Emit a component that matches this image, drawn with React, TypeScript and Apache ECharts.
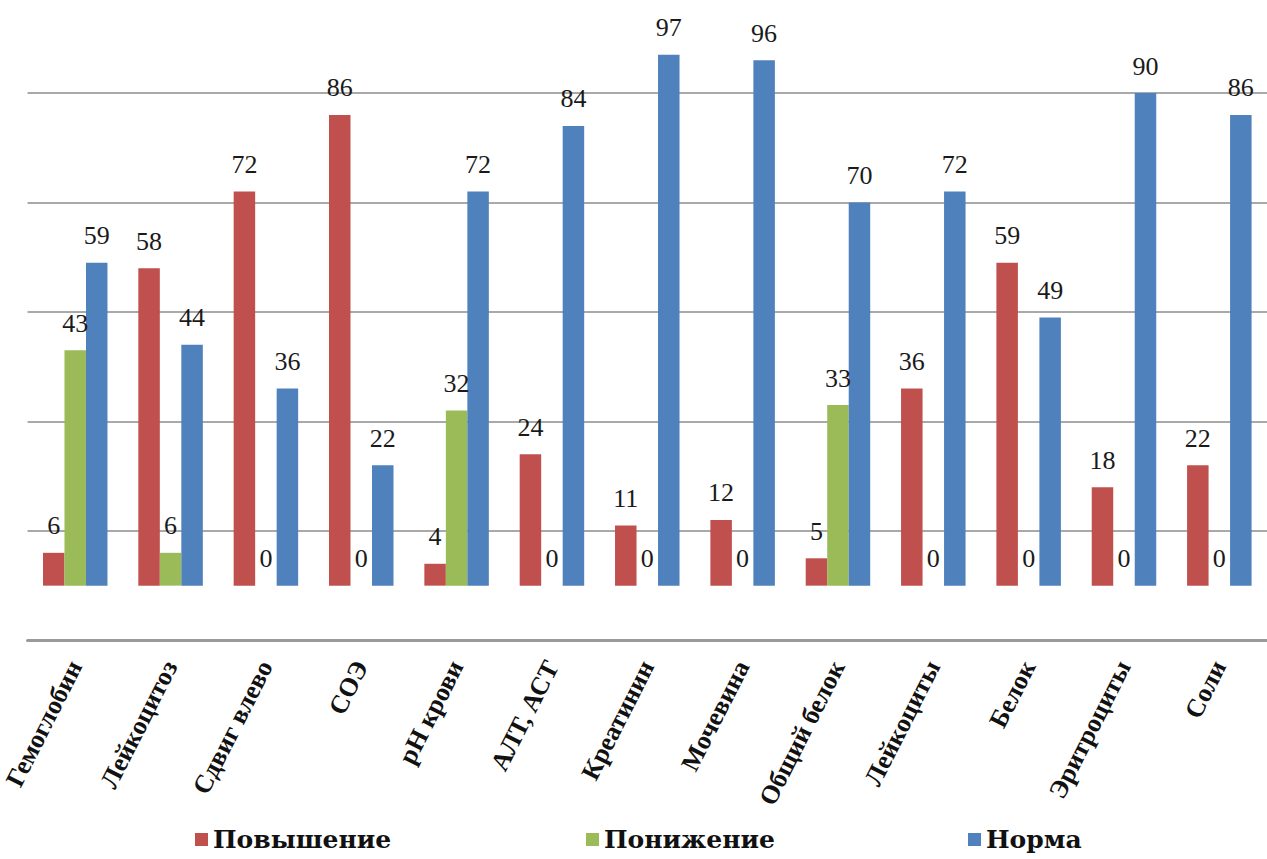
import React, { useEffect, useRef } from "react";
import * as echarts from "echarts";

const categories = [
  "Гемоглобин",
  "Лейкоцитоз",
  "Сдвиг влево",
  "СОЭ",
  "pH крови",
  "АЛТ, АСТ",
  "Креатинин",
  "Мочевина",
  "Общий белок",
  "Лейкоциты",
  "Белок",
  "Эритроциты",
  "Соли",
];
const increase = [6, 58, 72, 86, 4, 24, 11, 12, 5, 36, 59, 18, 22];
const decrease = [43, 6, 0, 0, 32, 0, 0, 0, 33, 0, 0, 0, 0];
const normal = [59, 44, 36, 22, 72, 84, 97, 96, 70, 72, 49, 90, 86];
const seriesNames = ["Повышение", "Понижение", "Норма"];
const colors = ["#C0504D", "#9BBB59", "#4F81BD"];

export default function App() {
  const ref = useRef<HTMLDivElement>(null);
  useEffect(() => {
    if (!ref.current) return;
    const chart = echarts.init(ref.current, null, { renderer: "svg" });
    const labelStyle = {
      show: true,
      position: "top" as const,
      distance: 14,
      fontFamily: "Liberation Serif",
      fontSize: 26,
      color: "#1a1a1a",
    };
    const data = [increase, decrease, normal];
    const legendLefts = [195, 586, 968];
    chart.setOption({
      animation: false,
      backgroundColor: "#ffffff",
      color: colors,
      grid: { left: 27, right: -3, top: 38.3, bottom: 218.6, containLabel: false },
      legend: seriesNames.map((n, i) => ({
        data: [n],
        left: legendLefts[i],
        top: 827,
        padding: 0,
        icon: "rect",
        itemWidth: 13,
        itemHeight: 13,
        textStyle: {
          fontFamily: "DejaVu Serif",
          fontWeight: "bold",
          fontSize: 25,
          color: "#111",
        },
      })),
      xAxis: {
        type: "category",
        data: categories,
        axisLine: { onZero: false, lineStyle: { color: "#9a9a9a", width: 3 } },
        axisTick: { show: false },
        axisLabel: {
          rotate: 63,
          margin: 22,
          interval: 0,
          fontFamily: "Liberation Serif",
          fontWeight: "bold",
          fontSize: 26,
          color: "#111",
        },
      },
      yAxis: {
        type: "value",
        min: -10,
        max: 100,
        interval: 20,
        axisLabel: { show: false },
        axisLine: { show: false },
        axisTick: { show: false },
        splitLine: {
          showMaxLine: false,
          lineStyle: { color: "#8c8c8c", width: 1.5 },
        },
      },
      series: seriesNames.map((n, i) => ({
        name: n,
        type: "bar",
        data: data[i],
        barWidth: 21.5,
        barGap: "0%",
        itemStyle: { color: colors[i] },
        label: labelStyle,
      })),
    });
    return () => chart.dispose();
  }, []);
  return (
    <div
      ref={ref}
      style={{ position: "fixed", left: 0, top: 0, width: 1267, height: 859 }}
    />
  );
}
